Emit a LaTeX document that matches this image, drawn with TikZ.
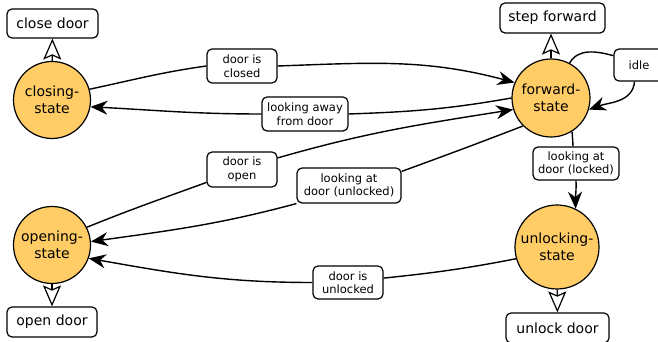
\documentclass[tikz,border=0pt]{standalone}
\usepackage{fontspec}
\setmainfont{DejaVu Sans}
\usetikzlibrary{arrows.meta}
\definecolor{statefill}{RGB}{255,204,102}
\begin{document}
\begin{tikzpicture}[x=1pt,y=1pt,
  state/.style={circle,draw,line width=1.2pt,fill=statefill,inner sep=0pt,align=center,
    font=\fontsize{14}{16.5}\selectfont},
  action/.style={rectangle,rounded corners=5pt,draw,line width=1.2pt,fill=white,inner sep=0pt,
    font=\fontsize{14}{16.5}\selectfont},
  cond/.style={rectangle,rounded corners=5pt,draw,line width=1.2pt,fill=white,inner sep=0pt,
    align=center,font=\fontsize{11.5}{13.5}\selectfont},
  plain/.style={line width=1.4pt},
  trans/.style={line width=1.4pt,-{Stealth[length=17pt,width=14pt,inset=5.5pt]}},
  does/.style={line width=1.2pt,-{Stealth[length=21pt,width=18pt,inset=4pt,fill=white]}}]
\useasboundingbox (0,0) rectangle (658,342);

% states
\node[state,minimum size=77pt] (closing)   at (52,242)  {closing-\\state};
\node[state,minimum size=78pt] (forward)   at (551,244) {forward-\\state};
\node[state,minimum size=77pt] (opening)   at (52,97)   {opening-\\state};
\node[state,minimum size=84pt] (unlocking) at (557,95)  {unlocking-\\state};

% actions
\node[action,minimum width=91pt,minimum height=29pt]  (closedoor)  at (52.5,318.5) {close door};
\node[action,minimum width=105pt,minimum height=30pt] (stepfwd)    at (552.5,324)  {step forward};
\node[action,minimum width=90pt,minimum height=30pt]  (opendoor)   at (52,20)      {open door};
\node[action,minimum width=103pt,minimum height=30pt] (unlockdoor) at (557.5,14)   {unlock door};

% transition conditions
\node[cond,minimum width=50pt,minimum height=32pt]  (idle)     at (639,277)   {idle};
\node[cond,minimum width=70pt,minimum height=34pt]  (isclosed) at (242,276)   {door is\\closed};
\node[cond,minimum width=86pt,minimum height=34pt]  (away)     at (305,228)   {looking away\\from door};
\node[cond,minimum width=70pt,minimum height=35pt]  (isopen)   at (242,172.5) {door is\\open};
\node[cond,minimum width=104pt,minimum height=35pt] (atunl)    at (349,156.5) {looking at\\door (unlocked)};
\node[cond,minimum width=70pt,minimum height=33pt]  (isunl)    at (348,59.5)  {door is\\unlocked};
\node[cond,minimum width=86pt,minimum height=33pt]  (atlock)   at (576,178.5) {looking at\\door (locked)};

% transitions
\draw[plain] (closing.16) to[out=12,in=188] (isclosed.west);
\draw[trans] (isclosed.east) to[out=2,in=165] (forward.157);

\draw[plain] (forward.180) to[out=190,in=2] (away.east);
\draw[trans] (away.west) to[out=180,in=-3] (closing.350);

\draw[plain] (opening.27) to[out=22,in=200] (isopen.200);
\draw[trans] (isopen.18) to[out=16,in=189] (forward.197);

\draw[plain] (forward.225) to[out=201,in=20] (atunl.15);
\draw[trans] (atunl.south west) to[out=195,in=8] (opening.5);

\draw[plain] (unlocking.196) to[out=191,in=6] (isunl.7);
\draw[trans] (isunl.west) to[out=180,in=-10] (opening.340);

\draw[plain] (forward.302) to[out=-85,in=92] ([xshift=-3pt]atlock.north);
\draw[trans] (atlock.south) to[out=-88,in=92] (unlocking.64);

\draw[plain] (forward.62) to[out=60,in=165] (idle.160);
\draw[trans] (idle.-105) to[out=-95,in=20] (forward.343);

% actions performed in each state
\draw[does] (closing) -- (closedoor);
\draw[does] (forward.north) -- (forward.north |- stepfwd.south);
\draw[does] (opening) -- (opendoor);
\draw[does] (unlocking) -- (unlockdoor);
\end{tikzpicture}
\end{document}
